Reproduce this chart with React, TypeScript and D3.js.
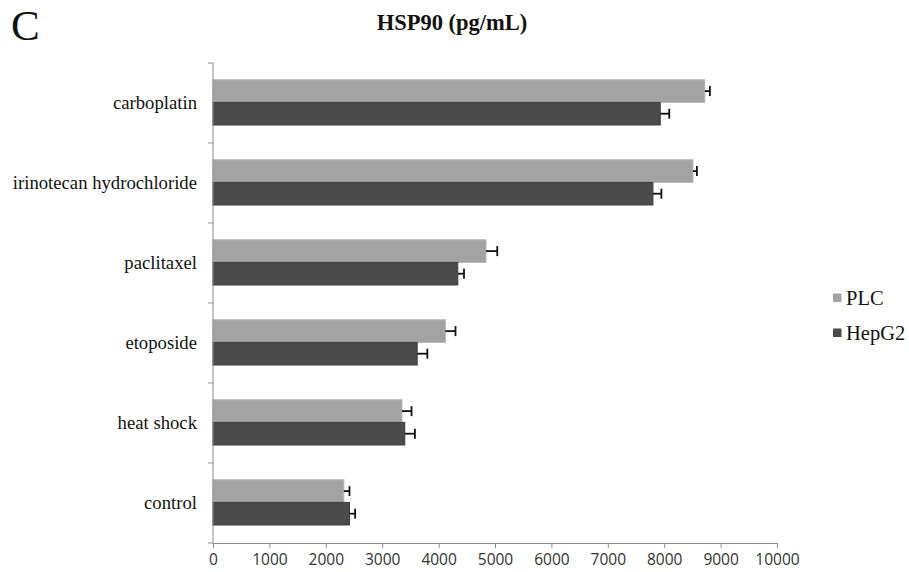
import * as d3 from 'd3';
import { useEffect, useRef } from 'react';

const categories = ['carboplatin', 'irinotecan hydrochloride', 'paclitaxel', 'etoposide', 'heat shock', 'control'];
const seriesNames = ['PLC', 'HepG2'];
const plcValues = [8720, 8510, 4840, 4120, 3350, 2320];
const plcErrors = [90, 70, 200, 180, 170, 100];
const hepg2Values = [7930, 7800, 4340, 3620, 3400, 2420];
const hepg2Errors = [160, 150, 110, 180, 180, 100];
const xTicks = [0, 1000, 2000, 3000, 4000, 5000, 6000, 7000, 8000, 9000, 10000];
const colors = ['#a3a3a3', '#4b4b4b'];

const W = 909;
const H = 572;

export default function App() {
  const ref = useRef<SVGSVGElement>(null);

  useEffect(() => {
    const svg = d3.select(ref.current);
    svg.selectAll('*').remove();

    const left = 213, right = 777, top = 63, bottom = 543;

    const x = d3.scaleLinear().domain([0, 10000]).range([left, right]);
    const y = d3.scaleBand().domain(categories).range([top, bottom]).padding(0);
    const bw = y.bandwidth();
    const sub = d3.scaleBand().domain(seriesNames).range([bw * 0.21, bw * 0.775]).padding(0);

    const series = [
      { name: 'PLC', values: plcValues, errors: plcErrors },
      { name: 'HepG2', values: hepg2Values, errors: hepg2Errors },
    ];

    // panel letter + title
    svg.append('text').attr('x', 11).attr('y', 40)
      .attr('font-family', 'Liberation Serif').attr('font-size', 43).attr('fill', '#111')
      .text('C');
    svg.append('text').attr('x', 452).attr('y', 30).attr('text-anchor', 'middle')
      .attr('font-family', 'Liberation Serif').attr('font-weight', 'bold').attr('font-size', 22.5)
      .attr('fill', '#111').text('HSP90 (pg/mL)');

    // bars with error bars
    series.forEach((s, si) => {
      const g = svg.append('g');
      categories.forEach((c, i) => {
        const by = (y(c) ?? 0) + (sub(s.name) ?? 0);
        const bh = sub.bandwidth();
        g.append('rect')
          .attr('x', x(0)).attr('y', by)
          .attr('width', x(s.values[i]) - x(0)).attr('height', bh)
          .attr('fill', colors[si])
          .attr('stroke', si === 0 ? '#b5b5b5' : '#3d3d3d').attr('stroke-width', 1);
        const cy = by + bh / 2;
        const xe = x(s.values[i] + s.errors[i]);
        g.append('line').attr('x1', x(s.values[i])).attr('x2', xe).attr('y1', cy).attr('y2', cy)
          .attr('stroke', '#111').attr('stroke-width', 1.8);
        g.append('line').attr('x1', xe).attr('x2', xe).attr('y1', cy - 5).attr('y2', cy + 5)
          .attr('stroke', '#111').attr('stroke-width', 1.8);
      });
    });

    // x axis
    const xa = svg.append('g').attr('transform', `translate(0,${bottom})`)
      .call(d3.axisBottom(x).tickValues(xTicks).tickSize(5).tickFormat(d3.format('d')));
    xa.select('.domain').attr('stroke', '#8a8a8a');
    xa.selectAll('.tick line').attr('stroke', '#8a8a8a');
    xa.selectAll('.tick text').attr('font-family', 'Open Sans').attr('font-size', 15.5)
      .attr('fill', '#333').attr('y', 0).attr('dy', 22);

    // y axis: line + band boundary ticks
    svg.append('line').attr('x1', left).attr('x2', left).attr('y1', top).attr('y2', bottom)
      .attr('stroke', '#8a8a8a');
    const bounds = categories.map(c => y(c) ?? 0).concat([bottom]);
    svg.selectAll('.ytick').data(bounds).enter().append('line')
      .attr('x1', left - 5).attr('x2', left).attr('y1', d => d).attr('y2', d => d)
      .attr('stroke', '#8a8a8a');

    svg.selectAll('.ylab').data(categories).enter().append('text')
      .attr('x', 197).attr('y', d => (y(d) ?? 0) + bw / 2).attr('dy', '0.3em')
      .attr('text-anchor', 'end').attr('font-family', 'Liberation Serif').attr('font-size', 18.7)
      .attr('fill', '#111').text(d => d);

    // legend
    const lg = svg.append('g').attr('transform', 'translate(833,298)');
    seriesNames.forEach((n, i) => {
      lg.append('rect').attr('x', 0).attr('y', i * 35 - 4.5).attr('width', 8.5).attr('height', 8.5)
        .attr('fill', colors[i]);
      lg.append('text').attr('x', 13).attr('y', i * 35 + 7)
        .attr('font-family', 'Liberation Serif').attr('font-size', 20.5)
        .attr('fill', '#111').text(n);
    });
  }, []);

  return (
    <svg ref={ref} width={W} height={H}
      style={{ position: 'absolute', left: 0, top: 0, display: 'block' }} />
  );
}
